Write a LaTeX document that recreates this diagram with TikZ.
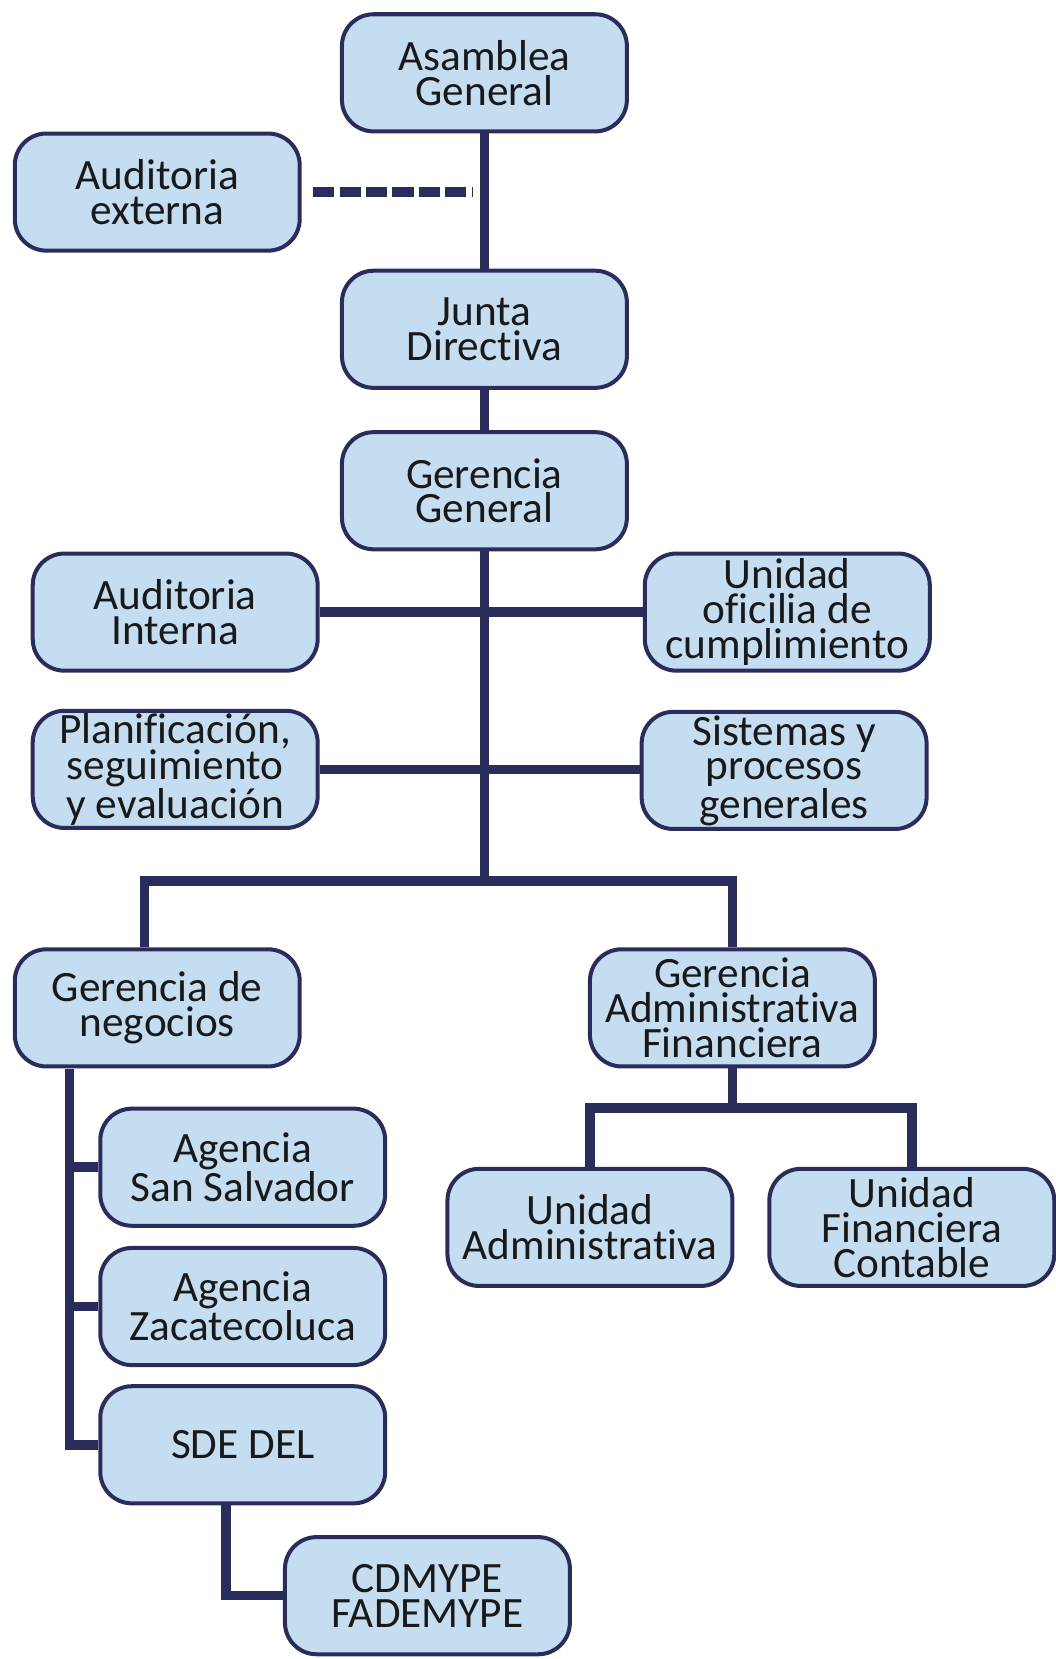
\documentclass[tikz,border=0pt]{standalone}
\usepackage{fontspec}
\setmainfont{Carlito}[Ligatures=NoCommon]
\usepackage{tikz}
\definecolor{boxblue}{RGB}{197,221,240}
\definecolor{navy}{RGB}{42,44,92}

\begin{document}
\begin{tikzpicture}[x=1pt,y=-1pt,
  unit/.style={draw=navy,line width=3.8pt,fill=boxblue,rounded corners=30pt,
    minimum width=270pt,minimum height=111pt,inner sep=0pt,align=center,
    font=\fontsize{41}{33}\selectfont,text=black!90},
  conn/.style={draw=navy,line width=9pt},
  dashline/.style={draw=navy,line width=9pt,dash pattern=on 20pt off 5pt}]
\useasboundingbox (0,0) rectangle (1000,1572);
% upper part
\node[unit](asamblea) at (459,69){Asamblea\\General};
\node[unit](audext) at (149,182){Auditoria\\externa};
\node[unit](junta) at (459,312){Junta\\Directiva};
\node[unit](gerencia) at (459,465){Gerencia\\General};
\node[unit](audint) at (166,580){Auditoria\\Interna};
\node[unit](oficilia) at (746,580){Unidad\\oficilia de\\cumplimiento};
\node[unit](planif) at (166,729){Planificación,\\seguimiento\\y evaluación};
\node[unit](sistemas) at (743,730){Sistemas y\\procesos\\generales};
% gerencias
\node[unit](gnegocios) at (149,955){Gerencia de\\negocios};
\node[unit](gadmin) at (694,955){Gerencia\\Administrativa\\Financiera};
\node[unit](uadmin) at (559,1163){Unidad\\Administrativa};
\node[unit](ufin) at (864,1163){Unidad\\Financiera\\Contable};
\node[unit](sansalv) at (230,1106){Agencia\\San Salvador};
\node[unit](zacate) at (230,1238){Agencia\\Zacatecoluca};
\node[unit](sdedel) at (230,1369){SDE DEL};
\node[unit](cdmype) at (405,1512){CDMYPE\\FADEMYPE};

\coordinate(dashend) at (447,182);
\coordinate(hub) at (459,835);
\coordinate(split) at (694,1050);
\coordinate(spine) at (66,1013);

\draw[conn](asamblea)--(junta);
\draw[conn](junta)--(gerencia);
\draw[dashline]([xshift=11pt]audext.east)--(dashend);
\draw[conn](gerencia.south)--(hub);
\draw[conn](audint.east)--(oficilia.west);
\draw[conn](planif.east)--(sistemas.west|-planif.east);
\draw[conn]([xshift=-12pt]gnegocios.north)|-(hub)-|(gadmin.north);
\draw[conn](gadmin.south)--(split);
\draw[conn](uadmin.north)|-(split)-|(ufin.north);
\draw[conn](spine)|-(sdedel.west);
\draw[conn](sansalv.west)--(sansalv.west-|spine);
\draw[conn](zacate.west)--(zacate.west-|spine);
\draw[conn]([xshift=-16pt]sdedel.south)|-(cdmype.west);
\end{tikzpicture}
\end{document}
